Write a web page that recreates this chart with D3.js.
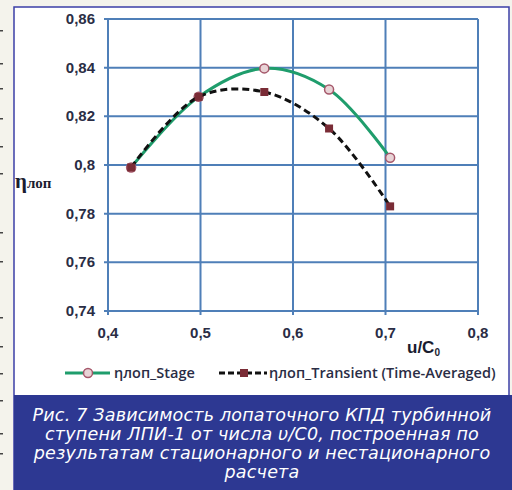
<!DOCTYPE html>
<html>
<head>
<meta charset="utf-8">
<script src="https://d3js.org/d3.v7.min.js"></script>
<style>
  body { margin: 0; background: #f4f3ec; }
  svg { display: block; }
</style>
</head>
<body>
<svg id="chart" width="512" height="490"></svg>
<script>
// data
var uC0 = [0.425, 0.498, 0.569, 0.639, 0.705];
var etaStage = [0.799, 0.828, 0.8397, 0.831, 0.803];
var etaTransient = [0.799, 0.828, 0.830, 0.815, 0.783];
var xTicks = [0.4, 0.5, 0.6, 0.7, 0.8];
var yTicks = [0.74, 0.76, 0.78, 0.8, 0.82, 0.84, 0.86];
var seriesNames = ["\u03b7\u043b\u043e\u043f_Stage", "\u03b7\u043b\u043e\u043f_Transient (Time-Averaged)"];
var captionLines = [
  "\u0420\u0438\u0441. 7 \u0417\u0430\u0432\u0438\u0441\u0438\u043c\u043e\u0441\u0442\u044c \u043b\u043e\u043f\u0430\u0442\u043e\u0447\u043d\u043e\u0433\u043e \u041a\u041f\u0414 \u0442\u0443\u0440\u0431\u0438\u043d\u043d\u043e\u0439",
  "\u0441\u0442\u0443\u043f\u0435\u043d\u0438 \u041b\u041f\u0418-1 \u043e\u0442 \u0447\u0438\u0441\u043b\u0430 \u03c5/C0, \u043f\u043e\u0441\u0442\u0440\u043e\u0435\u043d\u043d\u0430\u044f \u043f\u043e",
  "\u0440\u0435\u0437\u0443\u043b\u044c\u0442\u0430\u0442\u0430\u043c \u0441\u0442\u0430\u0446\u0438\u043e\u043d\u0430\u0440\u043d\u043e\u0433\u043e \u0438 \u043d\u0435\u0441\u0442\u0430\u0446\u0438\u043e\u043d\u0430\u0440\u043d\u043e\u0433\u043e",
  "\u0440\u0430\u0441\u0447\u0435\u0442\u0430"
];

var svg = d3.select("#chart");
var fmt = function (d) { return String(d).replace(".", ","); };

// little marks of the neighbouring column at the left edge
var edgeMarks = [30, 63, 88, 118, 146, 173, 232, 261, 317, 346, 373, 400, 433, 453];
svg.selectAll("rect.edge").data(edgeMarks).enter().append("rect")
  .attr("class", "edge").attr("x", 0).attr("y", function (d) { return d; })
  .attr("width", 3).attr("height", 1.5).attr("fill", "#444");

// frame
svg.append("rect").attr("x", 14).attr("y", 7).attr("width", 495).attr("height", 483)
  .attr("fill", "#fff").attr("stroke", "#3b3fa6").attr("stroke-width", 1.5);

// caption box
svg.append("rect").attr("x", 14).attr("y", 395).attr("width", 498).attr("height", 95)
  .attr("fill", "#2d3892");
svg.append("g").selectAll("text").data(captionLines).enter().append("text")
  .attr("x", 262).attr("y", function (d, i) { return 421 + i * 19; })
  .attr("text-anchor", "middle")
  .attr("fill", "#fff")
  .style("font-family", "'DejaVu Sans', sans-serif")
  .style("font-style", "italic")
  .style("font-size", "17.5px")
  .style("letter-spacing", "0.2px")
  .text(function (d) { return d; });

var x = d3.scaleLinear().domain([0.4, 0.8]).range([108, 478]);
var y = d3.scaleLinear().domain([0.74, 0.86]).range([311, 19]);

var gridColor = "#4f7fb8";
var g = svg.append("g");

// grid
g.selectAll("line.hg").data(yTicks).enter().append("line")
  .attr("x1", 104).attr("x2", x(0.8))
  .attr("y1", function (d) { return y(d); }).attr("y2", function (d) { return y(d); })
  .attr("stroke", gridColor).attr("stroke-width", 2);
g.selectAll("line.vg").data(xTicks).enter().append("line")
  .attr("x1", function (d) { return x(d); }).attr("x2", function (d) { return x(d); })
  .attr("y1", y(0.86)).attr("y2", 315)
  .attr("stroke", gridColor).attr("stroke-width", 2);

// tick labels
var tickStyle = function (sel) {
  sel.attr("fill", "#2a2d45").style("font-family", "'Liberation Sans', Arial, sans-serif")
    .style("font-weight", "bold").style("font-size", "15px");
};
g.selectAll("text.yt").data(yTicks).enter().append("text")
  .attr("x", 95).attr("y", function (d) { return y(d) + 5; })
  .attr("text-anchor", "end").call(tickStyle).text(fmt);
g.selectAll("text.xt").data(xTicks).enter().append("text")
  .attr("x", function (d) { return x(d); }).attr("y", 338)
  .attr("text-anchor", "middle").call(tickStyle).text(fmt);

// axis titles
var yl = g.append("text").attr("x", 15).attr("y", 188)
  .attr("fill", "#1a1d30").style("font-family", "'Liberation Serif', serif").style("font-weight", "bold");
yl.append("tspan").style("font-size", "21px").text("\u03b7");
yl.append("tspan").style("font-size", "15px").text("\u043b\u043e\u043f");

var xl = g.append("text").attr("x", 407).attr("y", 353)
  .attr("fill", "#1a1d30").style("font-family", "'Liberation Sans', Arial, sans-serif").style("font-weight", "bold");
xl.append("tspan").style("font-size", "17px").text("u/C");
xl.append("tspan").style("font-size", "10px").attr("dy", 3).text("0");

// lines
var line = d3.line().curve(d3.curveCatmullRom.alpha(0.5))
  .x(function (d) { return x(d[0]); }).y(function (d) { return y(d[1]); });

var stageColor = "#1f9d6c";
var transColor = "#111";
var circleStroke = "#a5576a";
var squareFill = "#7a2c36";

g.append("path").datum(d3.zip(uC0, etaStage)).attr("d", line)
  .attr("fill", "none").attr("stroke", stageColor).attr("stroke-width", 3);
g.selectAll("circle.st").data(d3.zip(uC0, etaStage)).enter().append("circle")
  .attr("cx", function (d) { return x(d[0]); }).attr("cy", function (d) { return y(d[1]); })
  .attr("r", 4.5).attr("fill", "#e8d3d6").attr("stroke", circleStroke).attr("stroke-width", 1.5);

g.append("path").datum(d3.zip(uC0, etaTransient)).attr("d", line)
  .attr("fill", "none").attr("stroke", transColor).attr("stroke-width", 3)
  .attr("stroke-dasharray", "7,4");
g.selectAll("rect.tr").data(d3.zip(uC0, etaTransient)).enter().append("rect")
  .attr("x", function (d) { return x(d[0]) - 4; }).attr("y", function (d) { return y(d[1]) - 4; })
  .attr("width", 8).attr("height", 8).attr("fill", squareFill);

// legend
var lg = svg.append("g");
var legY = 373;
lg.append("line").attr("x1", 65).attr("x2", 110).attr("y1", legY).attr("y2", legY)
  .attr("stroke", stageColor).attr("stroke-width", 3);
lg.append("circle").attr("cx", 88).attr("cy", legY).attr("r", 4.5)
  .attr("fill", "#e8d3d6").attr("stroke", circleStroke).attr("stroke-width", 1.5);
lg.append("line").attr("x1", 219).attr("x2", 267).attr("y1", legY).attr("y2", legY)
  .attr("stroke", transColor).attr("stroke-width", 3).attr("stroke-dasharray", "6,3");
lg.append("rect").attr("x", 240).attr("y", legY - 4).attr("width", 8).attr("height", 8).attr("fill", squareFill);
lg.selectAll("text").data(seriesNames).enter().append("text")
  .attr("x", function (d, i) { return i === 0 ? 114 : 269; }).attr("y", legY + 5)
  .attr("fill", "#2a2d45").style("font-family", "'Open Sans', sans-serif")
  .style("font-size", "14.5px").style("font-weight", "600")
  .text(function (d) { return d; });
</script>
</body>
</html>
